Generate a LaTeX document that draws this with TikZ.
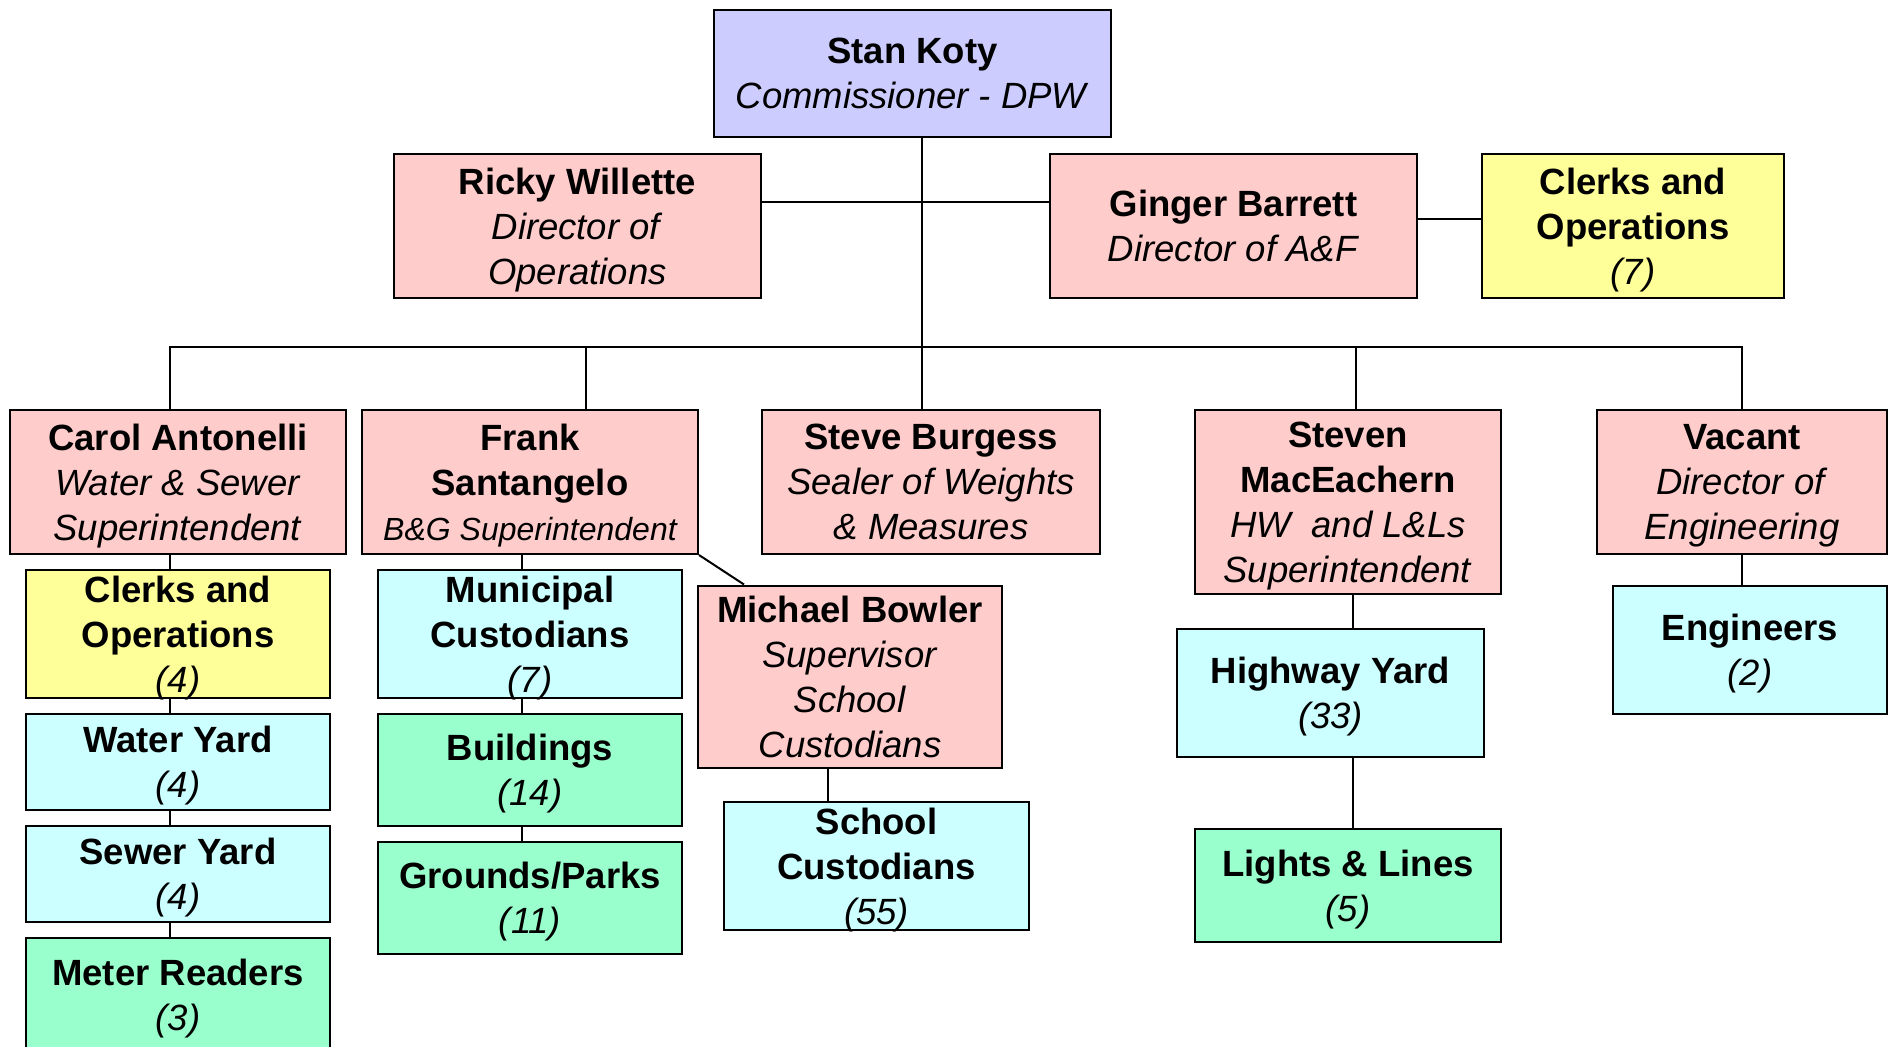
\documentclass[tikz,border=0pt]{standalone}
\usepackage{fontspec}
\setmainfont{Liberation Sans}
\usepackage{tikz}

\definecolor{bossblue}{HTML}{CCCCFF}
\definecolor{headpink}{HTML}{FFCCCC}
\definecolor{clerkyellow}{HTML}{FFFF99}
\definecolor{crewcyan}{HTML}{CCFFFF}
\definecolor{yardgreen}{HTML}{99FFCC}

\newcommand{\orgname}[1]{\textbf{#1}}
\newcommand{\orgrole}[1]{\textit{#1}}

\tikzset{
    orgbox/.style={draw=black, line width=2pt, align=center, inner sep=0pt,
        text depth=0pt, font=\fontsize{36.5}{45}\selectfont},
    wh/.style 2 args={minimum width=#1pt, minimum height=#2pt},
    boss/.style={orgbox, fill=bossblue},
    head/.style={orgbox, fill=headpink},
    clerk/.style={orgbox, fill=clerkyellow},
    crew/.style={orgbox, fill=crewcyan},
    yard/.style={orgbox, fill=yardgreen},
    link/.style={line width=2pt}
}

\begin{document}
\begin{tikzpicture}[x=1pt,y=-1pt]
            \useasboundingbox (0,0) rectangle (1888,1047);
            \node[boss, wh={397}{127}] (stan) at (912.5,73.5) {\orgname{Stan Koty}\\\orgrole{Commissioner - DPW}};
            \node[head, wh={367}{144}] (ricky) at (577.4,226) {\orgname{Ricky Willette}\\\orgrole{Director of}\\\orgrole{Operations}};
            \node[head, wh={367}{144}] (ginger) at (1233.5,226) {\orgname{Ginger Barrett}\\\orgrole{Director of A\&F}};
            \node[clerk, wh={302}{144}] (clerksA) at (1633,226) {\orgname{Clerks and}\\\orgname{Operations}\\\orgrole{(7)}};
            \node[head, wh={336}{144}] (carol) at (178,482) {\orgname{Carol Antonelli}\\\orgrole{Water \& Sewer}\\\orgrole{Superintendent}};
            \node[head, wh={336}{144}] (frank) at (530,482) {\orgname{Frank}\\\orgname{Santangelo}\\{\fontsize{32}{45}\selectfont\itshape B\&G Superintendent}};
            \node[head, wh={338}{144}] (steve) at (931,482) {\orgname{Steve Burgess}\\\orgrole{Sealer of Weights}\\\orgrole{\& Measures}};
            \node[head, wh={306}{184}] (steven) at (1348,502) {\orgname{Steven}\\\orgname{MacEachern}\\\orgrole{HW\ \ and L\&Ls}\\\orgrole{Superintendent}};
            \node[head, wh={290}{144}] (vacant) at (1742,482) {\orgname{Vacant}\\\orgrole{Director of}\\\orgrole{Engineering}};
            \node[clerk, wh={304}{128}] (clerksB) at (178,634) {\orgname{Clerks and}\\\orgname{Operations}\\\orgrole{(4)}};
            \node[crew, wh={304}{96}] (water) at (178,762) {\orgname{Water Yard}\\\orgrole{(4)}};
            \node[crew, wh={304}{96}] (sewer) at (178,874) {\orgname{Sewer Yard}\\\orgrole{(4)}};
            \node[yard, wh={304}{114}] (meter) at (178,995) {\orgname{Meter Readers}\\\orgrole{(3)}};
            \node[crew, wh={304}{128}] (municipal) at (530,634) {\orgname{Municipal}\\\orgname{Custodians}\\\orgrole{(7)}};
            \node[yard, wh={304}{112}] (buildings) at (530,770) {\orgname{Buildings}\\\orgrole{(14)}};
            \node[yard, wh={304}{112}] (grounds) at (530,898) {\orgname{Grounds/Parks}\\\orgrole{(11)}};
            \node[head, wh={304}{182}] (bowler) at (850,676.5) {\orgname{Michael Bowler}\\\orgrole{Supervisor}\\\orgrole{School}\\\orgrole{Custodians}};
            \node[crew, wh={305}{128}] (school) at (876.5,866) {\orgname{School}\\\orgname{Custodians}\\\orgrole{(55)}};
            \node[crew, wh={307}{128}] (highway) at (1330.5,693) {\orgname{Highway Yard}\\\orgrole{(33)}};
            \node[yard, wh={306}{113}] (lights) at (1348,885.5) {\orgname{Lights \& Lines}\\\orgrole{(5)}};
            \node[crew, wh={274}{128}] (engineers) at (1750,650) {\orgname{Engineers}\\\orgrole{(2)}};

            \coordinate (bus) at (922,346.7);
            \draw[link] (stan.south -| bus) -- (bus);
            \draw[link] ([yshift=24pt]ricky.east) -- ([yshift=24pt]ginger.west);
            \draw[link] ([yshift=7.5pt]ginger.east) -- ([yshift=7.5pt]clerksA.west);
            \draw[link] ([xshift=-8pt]carol.north) |- (bus) -| (vacant.north);
            \draw[link] ([xshift=56pt]frank.north) -- ([xshift=56pt]frank.north |- bus);
            \draw[link] (steve.north -| bus) -- (bus);
            \draw[link] ([xshift=8pt]steven.north) -- ([xshift=8pt]steven.north |- bus);
            \foreach \a/\b in {carol/clerksB, clerksB/water, water/sewer, sewer/meter,
                frank/municipal, municipal/buildings, buildings/grounds}
                \draw[link] ([xshift=-8pt]\a.south) -- ([xshift=-8pt]\a.south |- \b.north);
            \draw[link] (frank.south east) -- ([xshift=47pt]bowler.north west);
            \draw[link] ([xshift=-22pt]bowler.south) -- ([xshift=-22pt]bowler.south |- school.north);
            \draw[link] ([xshift=5pt]steven.south) -- ([xshift=5pt]steven.south |- highway.north);
            \draw[link] ([xshift=5pt]lights.north) -- ([xshift=5pt]lights.north |- highway.south);
            \draw[link] (vacant.south) -- (vacant.south |- engineers.north);
        \end{tikzpicture}
\end{document}
